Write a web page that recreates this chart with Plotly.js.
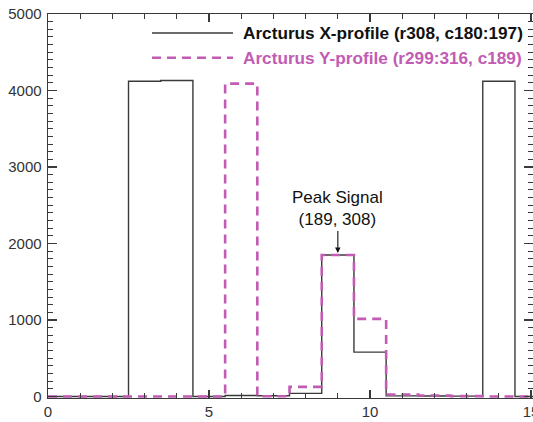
<!DOCTYPE html>
<html>
<head>
<meta charset="utf-8">
<script src="https://cdn.plot.ly/plotly-3.0.1.min.js"></script>
<style>html,body{margin:0;padding:0;background:#fff;}#chart{width:533px;height:422px;}</style>
</head>
<body>
<div id="chart"></div>
<script>
// Pixel index along the profile (0..17)
var pixelIndex = [0,1,2,3,4,5,6,7,8,9,10,11,12,13,14,15,16,17];
// Arcturus X-profile (r308, c180:197)
var xProfile = [0,0,0,4120,4130,0,12,10,40,1850,580,8,6,4,4120,0,0,0];
// Arcturus Y-profile (r299:316, c189)
var yProfile = [0,0,0,0,0,0,4090,2,125,1850,1015,25,12,4,0,0,0,0];
var seriesNames = ["Arcturus X-profile (r308, c180:197)", "Arcturus Y-profile (r299:316, c189)"];
var peakLabel = ["Peak Signal", "(189, 308)"];
var peakIndex = 9;

var pink = '#C25BB4';
var ink = '#3a3a3a';
var FONT = 'Liberation Sans, Arial, Helvetica, sans-serif';

var traces = [
  {x: pixelIndex, y: xProfile, name: seriesNames[0], type: 'scatter', mode: 'lines',
   line: {shape: 'hvh', color: ink, width: 1.4}, showlegend: false},
  {x: pixelIndex, y: yProfile, name: seriesNames[1], type: 'scatter', mode: 'lines',
   line: {shape: 'hvh', color: pink, width: 2.6, dash: '9px,6px'}, showlegend: false}
];

var axisCommon = {
  showgrid: false, zeroline: false, showline: true, linecolor: ink, linewidth: 1.4,
  ticks: 'inside', tickcolor: ink, tickwidth: 1.2, mirror: 'ticks',
  ticklabeloverflow: 'allow',
  tickfont: {family: FONT, size: 15, color: '#333'}
};

var layout = {
  width: 533, height: 422,
  margin: {l: 48, r: 0, t: 14, b: 24, autoexpand: false},
  paper_bgcolor: '#fff', plot_bgcolor: '#fff',
  font: {family: FONT},
  xaxis: Object.assign({}, axisCommon, {
    range: [0, 15.06], tickmode: 'linear', tick0: 0, dtick: 5, ticklen: 8,
    minor: {dtick: 1, ticklen: 5, ticks: 'inside', tickcolor: ink, tickwidth: 1}
  }),
  yaxis: Object.assign({}, axisCommon, {
    range: [-20, 5000], tickmode: 'linear', tick0: 0, dtick: 1000, ticklen: 9,
    ticklabelstandoff: 2,
    minor: {dtick: 100, ticklen: 5, ticks: 'inside', tickcolor: ink, tickwidth: 1}
  }),
  shapes: [
    {type: 'line', xref: 'paper', yref: 'paper', x0: 0.2144, x1: 0.3814, y0: 0.9505, y1: 0.9505,
     line: {color: ink, width: 1.4}},
    {type: 'line', xref: 'paper', yref: 'paper', x0: 0.2144, x1: 0.3814, y0: 0.8862, y1: 0.8862,
     line: {color: pink, width: 2.6, dash: '9px,6px'}}
  ],
  annotations: [
    {xref: 'paper', yref: 'paper', x: 0.398, y: 0.9505, xanchor: 'left', yanchor: 'middle',
     text: '<b>' + seriesNames[0] + '</b>', showarrow: false,
     font: {family: FONT, size: 17.2, color: '#111'}},
    {xref: 'paper', yref: 'paper', x: 0.398, y: 0.8862, xanchor: 'left', yanchor: 'middle',
     text: '<b>' + seriesNames[1] + '</b>', showarrow: false,
     font: {family: FONT, size: 17.2, color: pink}},
    {x: pixelIndex[peakIndex], y: xProfile[peakIndex], xref: 'x', yref: 'y',
     text: peakLabel[0] + '<br>' + peakLabel[1], showarrow: true, arrowhead: 2, arrowsize: 1,
     arrowwidth: 1.1, arrowcolor: '#111', ax: 0, ay: -46, standoff: 2,
     font: {family: FONT, size: 17, color: '#111'}}
  ]
};

Plotly.newPlot('chart', traces, layout, {displayModeBar: false, staticPlot: true});
</script>
</body>
</html>
